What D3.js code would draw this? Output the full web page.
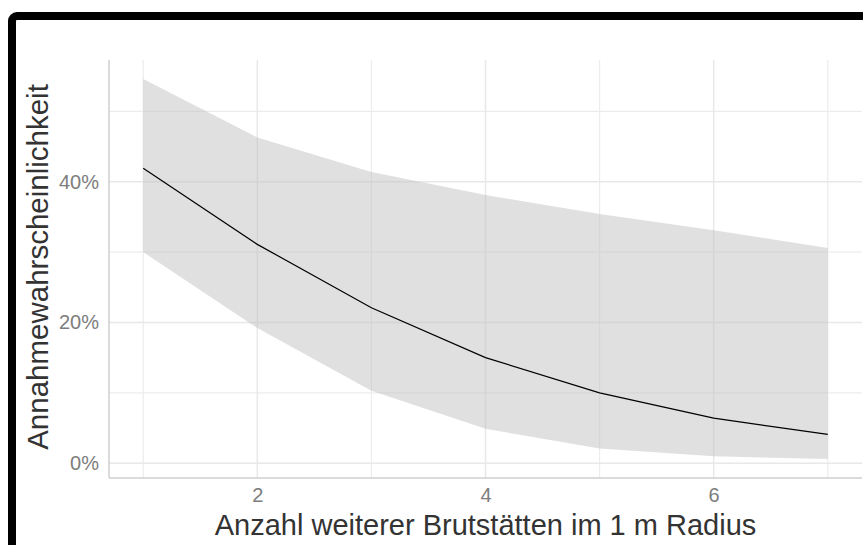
<!DOCTYPE html>
<html>
<head>
<meta charset="utf-8">
<script src="https://cdn.jsdelivr.net/npm/d3@7"></script>
<style>
  body { margin: 0; background: #fff; }
  svg { display: block; font-family: 'Liberation Sans', Arial, sans-serif; }
</style>
</head>
<body>
<div id="graf"></div>
<script>
// Daten
anzahl = [1, 2, 3, 4, 5, 6, 7]
wahrscheinlichkeit = [0.419, 0.311, 0.221, 0.150, 0.100, 0.064, 0.041]
obergrenze = [0.546, 0.463, 0.414, 0.381, 0.354, 0.331, 0.306]
untergrenze = [0.300, 0.192, 0.103, 0.049, 0.021, 0.010, 0.006]

xTicks = [2, 4, 6]
xMinor = [1, 3, 5, 7]
yTicks = [0, 0.2, 0.4]
yMinor = [0.1, 0.3, 0.5]

ancho_total = 863
alto_total = 545

margins = { top: 60, left: 109, right: 1, bottom: 67 }
ancho = ancho_total - margins.left - margins.right
alto = alto_total - margins.top - margins.bottom

datos = anzahl.map((a, i) => ({
  a: a,
  p: wahrscheinlichkeit[i],
  hi: obergrenze[i],
  lo: untergrenze[i]
}))

svg = d3.select('#graf').append('svg')
  .attr('width', ancho_total)
  .attr('height', alto_total)

// Rahmen (schwarz, nur oben/links sichtbar)
svg.append('rect')
  .attr('x', 12).attr('y', 16)
  .attr('width', 1000).attr('height', 1000)
  .attr('rx', 5)
  .attr('fill', 'none')
  .attr('stroke', '#000')
  .attr('stroke-width', 8)

g = svg.append('g')
  .attr('transform', `translate(${margins.left}, ${margins.top})`)

// ggplot-Stil: 5% Erweiterung
xExt = d3.extent(anzahl)
xPad = (xExt[1] - xExt[0]) * 0.05
x = d3.scaleLinear()
  .domain([xExt[0] - xPad, xExt[1] + xPad])
  .range([0, ancho])

yLo = d3.min(untergrenze)
yHi = d3.max(obergrenze)
yPad = (yHi - yLo) * 0.05
y = d3.scaleLinear()
  .domain([yLo - yPad, yHi + yPad])
  .range([alto, 0])

// Gitter
grid = g.append('g')
grid.selectAll('.vmin').data(xMinor).enter().append('line')
  .attr('x1', d => x(d)).attr('x2', d => x(d))
  .attr('y1', 0).attr('y2', alto)
  .attr('stroke', '#ececec').attr('stroke-width', 1.2)
grid.selectAll('.hmin').data(yMinor).enter().append('line')
  .attr('x1', 0).attr('x2', ancho)
  .attr('y1', d => y(d)).attr('y2', d => y(d))
  .attr('stroke', '#ececec').attr('stroke-width', 1.2)
grid.selectAll('.vmaj').data(xTicks).enter().append('line')
  .attr('x1', d => x(d)).attr('x2', d => x(d))
  .attr('y1', 0).attr('y2', alto)
  .attr('stroke', '#e8e8e8').attr('stroke-width', 1.5)
grid.selectAll('.hmaj').data(yTicks).enter().append('line')
  .attr('x1', 0).attr('x2', ancho)
  .attr('y1', d => y(d)).attr('y2', d => y(d))
  .attr('stroke', '#e8e8e8').attr('stroke-width', 1.5)

// Konfidenzband
area = d3.area()
  .x(d => x(d.a))
  .y0(d => y(d.lo))
  .y1(d => y(d.hi))

g.append('path')
  .datum(datos)
  .attr('d', area)
  .attr('fill', '#bdbdbd')
  .attr('fill-opacity', 0.47)

// Linie
linea = d3.line()
  .x(d => x(d.a))
  .y(d => y(d.p))

g.append('path')
  .datum(datos)
  .attr('d', linea)
  .attr('fill', 'none')
  .attr('stroke', '#000')
  .attr('stroke-width', 1.2)

// Achsenlinien
g.append('line')
  .attr('x1', 0).attr('x2', 0).attr('y1', 0).attr('y2', alto)
  .attr('stroke', '#cfcfcf').attr('stroke-width', 1.5)
g.append('line')
  .attr('x1', 0).attr('x2', ancho).attr('y1', alto).attr('y2', alto)
  .attr('stroke', '#cfcfcf').attr('stroke-width', 1.5)

// Achsen
xAxisGroup = g.append('g')
  .attr('transform', `translate(0, ${alto})`)
  .call(d3.axisBottom(x).tickValues(xTicks).tickSize(0).tickPadding(10)
    .tickFormat(d3.format('d')))
yAxisGroup = g.append('g')
  .call(d3.axisLeft(y).tickValues(yTicks).tickSize(0).tickPadding(10)
    .tickFormat(d3.format('.0%')))

g.selectAll('.domain').remove()
g.selectAll('.tick text')
  .attr('fill', '#7d7d7d')
  .style('font-size', '20px')
  .style('font-family', "'Liberation Sans', Arial, sans-serif")

// Titel
g.append('text')
  .attr('x', ancho / 2)
  .attr('y', alto + 57)
  .attr('text-anchor', 'middle')
  .attr('fill', '#333')
  .style('font-size', '29px')
  .text('Anzahl weiterer Brutstätten im 1 m Radius')

g.append('text')
  .attr('transform', `translate(${-109 + 48}, ${alto / 2 - 2}) rotate(-90)`)
  .attr('text-anchor', 'middle')
  .attr('fill', '#333')
  .style('font-size', '29.5px')
  .text('Annahmewahrscheinlichkeit')
</script>
</body>
</html>
